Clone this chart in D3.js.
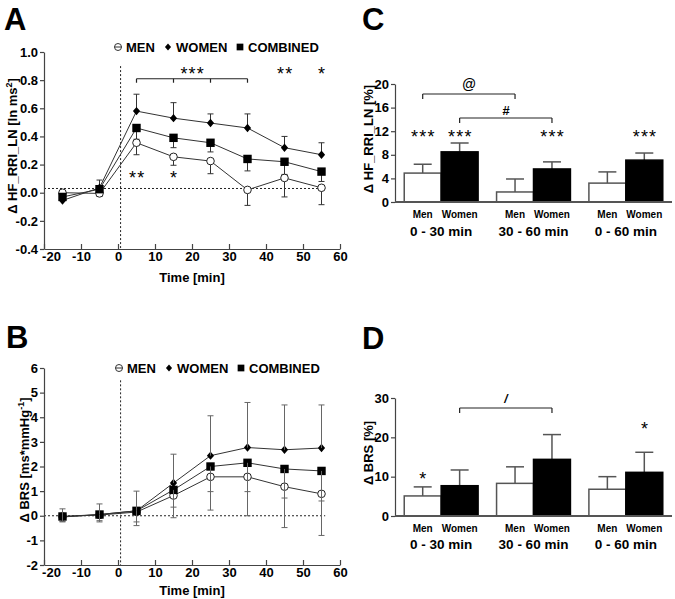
<!DOCTYPE html>
<html><head><meta charset="utf-8">
<script src="https://cdn.jsdelivr.net/npm/d3@7"></script>
<style>
body{margin:0;background:#fff}
text{font-family:"Liberation Sans",Arial,sans-serif;font-weight:bold;fill:#000}
</style>
</head><body>
<svg id="c" width="675" height="599"></svg>
<script>
// ---------- DATA ----------
const times = [-15, -5, 5, 15, 25, 35, 45, 55];
const xTicks = [-20, -10, 0, 10, 20, 30, 40, 50, 60];

// Panel A: Δ HF_RRI_LN [ln ms²]
const hfMen      = [0.00, -0.005, 0.355, 0.255, 0.225, 0.02, 0.105, 0.035];
const hfMenErr   = [0.02, 0.02, 0.085, 0.06, 0.09, 0.11, 0.135, 0.12];
const hfWomen    = [-0.055, 0.035, 0.58, 0.53, 0.495, 0.46, 0.32, 0.27];
const hfWomenErr = [0.02, 0.055, 0.12, 0.11, 0.065, 0.10, 0.08, 0.085];
const hfComb     = [-0.03, 0.025, 0.46, 0.39, 0.355, 0.24, 0.22, 0.15];
const hfCombErr  = [0.02, 0.03, 0.08, 0.07, 0.065, 0.085, 0.09, 0.07];
const hfYTicks   = [-0.4, -0.2, 0.0, 0.2, 0.4, 0.6, 0.8, 1.0];

// Panel B: Δ BRS [ms*mmHg-1]
const brsMen      = [-0.03, 0.03, 0.15, 0.82, 1.58, 1.58, 1.18, 0.89];
const brsMenErr   = [0.22, 0.28, 0.55, 0.90, 1.35, 1.58, 1.66, 1.69];
const brsWomen    = [-0.05, 0.05, 0.20, 1.33, 2.44, 2.77, 2.68, 2.75];
const brsWomenErr = [0.33, 0.43, 0.80, 1.17, 1.62, 1.83, 1.82, 1.75];
const brsComb     = [-0.03, 0.05, 0.20, 1.05, 2.00, 2.15, 1.90, 1.82];
const brsCombErr  = [0.20, 0.25, 0.45, 0.70, 1.02, 1.17, 1.18, 1.22];
const brsYTicks   = [-2, -1, 0, 1, 2, 3, 4, 5, 6];

// Panels C & D
const groups = ["0 - 30 min", "30 - 60 min", "0 - 60 min"];
const sexes = ["Men", "Women"];
const hfPctMen      = [4.9, 1.7, 3.2];
const hfPctMenErr   = [1.5, 2.2, 1.9];
const hfPctWomen    = [8.5, 5.6, 7.1];
const hfPctWomenErr = [1.5, 1.2, 1.2];
const hfPctTicks    = [0, 4, 8, 12, 16, 20];
const brsPctMen      = [5.1, 8.3, 6.8];
const brsPctMenErr   = [2.3, 4.2, 3.2];
const brsPctWomen    = [7.7, 14.4, 11.1];
const brsPctWomenErr = [4.0, 6.3, 5.1];
const brsPctTicks    = [0, 10, 20, 30];

const legendItems = ["MEN", "WOMEN", "COMBINED"];

// ---------- DRAW ----------
const svg = d3.select("#c");
svg.append("rect").attr("width", 675).attr("height", 599).attr("fill", "#fff");
const AX = "#444";

function styleAxis(sel, fs) {
  sel.selectAll("path,line").attr("stroke", AX).attr("stroke-width", 1.2);
  sel.selectAll("text").attr("font-size", fs).attr("fill", "#000")
     .style("font-family", '"Liberation Sans",Arial,sans-serif').style("font-weight", "bold");
}

function marker(g, type, cx, cy, s) {
  if (type === "circle") {
    g.append("circle").attr("cx", cx).attr("cy", cy).attr("r", 3.8 * s)
      .attr("fill", "#fff").attr("stroke", "#222").attr("stroke-width", 1);
  } else if (type === "diamond") {
    const h = 4.2 * s, w = 3.6 * s;
    g.append("path").attr("d", `M${cx},${cy - h}L${cx + w},${cy}L${cx},${cy + h}L${cx - w},${cy}Z`)
      .attr("fill", "#000");
  } else {
    const a = 4.2 * s;
    g.append("rect").attr("x", cx - a).attr("y", cy - a).attr("width", 2 * a).attr("height", 2 * a)
      .attr("fill", "#000");
  }
}

function linePanel(o) {
  const g = svg.append("g");
  const x = d3.scaleLinear().domain([-20, 60]).range([44, 340]);
  const y = d3.scaleLinear().domain(o.yDomain).range(o.yRange);

  // reference dotted lines
  g.append("line").attr("x1", x(-20)).attr("x2", x(56)).attr("y1", y(o.hRef)).attr("y2", y(o.hRef))
    .attr("stroke", "#222").attr("stroke-width", 1).attr("stroke-dasharray", "2,2");
  g.append("line").attr("x1", x(0.7)).attr("x2", x(0.7)).attr("y1", y(o.vTop)).attr("y2", y(o.yDomain[0]))
    .attr("stroke", "#222").attr("stroke-width", 1).attr("stroke-dasharray", "2,2");

  // axes
  const ya = g.append("g").attr("transform", `translate(${x(-20)},0)`)
    .call(d3.axisLeft(y).tickValues(o.yTicks).tickSize(4).tickSizeOuter(0).tickPadding(2).tickFormat(o.fmt));
  styleAxis(ya, 13);
  const xa = g.append("g").attr("transform", `translate(0,${y(o.yDomain[0])})`)
    .call(d3.axisBottom(x).tickValues(xTicks).tickSizeInner(-5).tickSizeOuter(0).tickPadding(3).tickFormat(d => String(d)));
  styleAxis(xa, 13);
  xa.selectAll(".tick").filter(d => d === -20).select("text").attr("dx", 7);

  g.append("text").attr("x", x(20)).attr("y", o.xLabelY).attr("text-anchor", "middle")
    .attr("font-size", 13).text("Time [min]");

  // y label
  const yl = g.append("text").attr("transform", `translate(${o.yLabelX},${o.yLabelY}) rotate(-90)`)
    .attr("text-anchor", "middle").attr("font-size", 13);
  yl.append("tspan").text(o.yLabel[0]);
  yl.append("tspan").attr("font-size", 9).attr("dy", -5).text(o.yLabel[1]);
  yl.append("tspan").attr("dy", 5).text(o.yLabel[2]);

  // series
  const line = d3.line().x((d, i) => x(times[i])).y(d => y(d));
  o.series.forEach(s => {
    g.append("path").datum(s.vals).attr("d", line).attr("fill", "none")
      .attr("stroke", "#333").attr("stroke-width", 1);
  });
  const drawErr = () => o.series.forEach(s => {
    s.vals.forEach((v, i) => {
      const cx = x(times[i]), y1 = y(v), y2 = y(v + s.dir * s.err[i]);
      g.append("line").attr("x1", cx).attr("x2", cx).attr("y1", y1).attr("y2", y2)
        .attr("stroke", o.errColor).attr("stroke-width", 1);
      g.append("line").attr("x1", cx - 3).attr("x2", cx + 3).attr("y1", y2).attr("y2", y2)
        .attr("stroke", o.errColor).attr("stroke-width", 1);
    });
  });
  if (!o.errOnTop) drawErr();
  o.series.forEach(s => s.vals.forEach((v, i) => marker(g, s.marker, x(times[i]), y(v), 1)));
  if (o.errOnTop) drawErr();

  // legend
  const lx = o.legendX, ly = o.legendY;
  const symX = [lx, lx + 50, lx + 122], txtX = [lx + 8, lx + 58, lx + 130];
  g.append("circle").attr("cx", symX[0]).attr("cy", ly).attr("r", 3.5).attr("fill", "#fff").attr("stroke", "#333");
  g.append("line").attr("x1", symX[0] - 3.5).attr("x2", symX[0] + 3.5).attr("y1", ly).attr("y2", ly).attr("stroke", "#333");
  marker(g, "diamond", symX[1], ly, 0.85);
  marker(g, "square", symX[2], ly, 0.8);
  legendItems.forEach((t, i) => g.append("text").attr("x", txtX[i]).attr("y", ly + 4.5)
    .attr("font-size", 13).text(t));

  return {g, x, y};
}

function starText(g, x, yb, txt) {
  g.append("text").attr("x", x + 0.7).attr("y", yb).attr("text-anchor", "middle")
    .attr("font-size", 18).attr("letter-spacing", 1.2)
    .style("font-weight", "normal").text(txt);
}

function bracket(g, xs, yTop, legLen) {
  g.append("line").attr("x1", xs[0]).attr("x2", xs[xs.length - 1]).attr("y1", yTop).attr("y2", yTop)
    .attr("stroke", "#222").attr("stroke-width", 1.2);
  xs.forEach(xx => g.append("line").attr("x1", xx).attr("x2", xx).attr("y1", yTop).attr("y2", yTop + legLen)
    .attr("stroke", "#222").attr("stroke-width", 1.2));
}

// ---- Panel A ----
const A = linePanel({
  yDomain: [-0.4, 1.0], yRange: [249, 52], yTicks: hfYTicks, fmt: d => d.toFixed(1),
  hRef: 0.03, vTop: 0.9, xLabelY: 282, yLabelX: 17, yLabelY: 146,
  yLabel: ["Δ HF_RRI_LN [ln ms", "2", "]"], errColor: "#333", errOnTop: false,
  legendX: 118, legendY: 47,
  series: [
    {vals: hfMen, err: hfMenErr, dir: -1, marker: "circle"},
    {vals: hfComb, err: hfCombErr, dir: -1, marker: "square"},
    {vals: hfWomen, err: hfWomenErr, dir: 1, marker: "diamond"}
  ]
});
{
  const {g, x, y} = A;
  const by = y(0.81);
  bracket(g, [5, 15, 25, 35].map(x), by, 4);
  starText(g, x(20), by + 1, "***");
  starText(g, x(45), by + 1, "**");
  starText(g, x(55), by + 1, "*");
  starText(g, x(5), y(0.065), "**");
  starText(g, x(15), y(0.065), "*");
}

// ---- Panel B ----
linePanel({
  yDomain: [-2, 6], yRange: [565, 368], yTicks: brsYTicks, fmt: d => String(d),
  hRef: 0, vTop: 5.5, xLabelY: 595, yLabelX: 29, yLabelY: 460,
  yLabel: ["Δ BRS [ms*mmHg", "-1", "]"], errColor: "#666", errOnTop: true,
  legendX: 119, legendY: 368,
  series: [
    {vals: brsMen, err: brsMenErr, dir: -1, marker: "circle"},
    {vals: brsComb, err: brsCombErr, dir: -1, marker: "square"},
    {vals: brsWomen, err: brsWomenErr, dir: 1, marker: "diamond"}
  ]
});

// ---- Bar panels ----
function barPanel(o) {
  const g = svg.append("g");
  const x0 = d3.scaleBand().domain(groups).range([395, 672]).paddingInner(0.2).paddingOuter(0.1);
  const x1 = d3.scaleBand().domain(sexes).range([0, x0.bandwidth()]);
  const y = d3.scaleLinear().domain(o.yDomain).range(o.yRange);

  const ya = g.append("g").attr("transform", "translate(395,0)")
    .call(d3.axisLeft(y).tickValues(o.yTicks).tickSize(4).tickSizeOuter(0).tickPadding(2));
  styleAxis(ya, 13);

  const data = [];
  groups.forEach((gr, i) => {
    data.push({gr, sex: "Men", v: o.men[i], e: o.menErr[i]});
    data.push({gr, sex: "Women", v: o.women[i], e: o.womenErr[i]});
  });
  data.forEach(d => {
    const bx = x0(d.gr) + x1(d.sex), bw = x1.bandwidth(), cx = bx + bw / 2;
    const top = y(d.v + d.e);
    g.append("line").attr("x1", cx).attr("x2", cx).attr("y1", y(d.v)).attr("y2", top)
      .attr("stroke", "#555").attr("stroke-width", 1.5);
    g.append("line").attr("x1", cx - 9).attr("x2", cx + 9).attr("y1", top).attr("y2", top)
      .attr("stroke", "#555").attr("stroke-width", 1.5);
    g.append("rect").attr("x", bx).attr("y", y(d.v)).attr("width", bw).attr("height", y(0) - y(d.v))
      .attr("fill", d.sex === "Men" ? "#fff" : "#000")
      .attr("stroke", d.sex === "Men" ? "#555" : "#000").attr("stroke-width", 1.5);
    g.append("text").attr("x", cx).attr("y", o.catY).attr("text-anchor", "middle")
      .attr("font-size", 10).text(d.sex);
  });
  g.append("line").attr("x1", 395).attr("x2", 672).attr("y1", y(0)).attr("y2", y(0))
    .attr("stroke", "#555").attr("stroke-width", 1.8);
  groups.forEach(gr => g.append("text").attr("x", x0(gr) + x0.bandwidth() / 2).attr("y", o.grpY)
    .attr("text-anchor", "middle").attr("font-size", 13.5).text(gr));

  g.append("text").attr("transform", `translate(373,${o.yLabelY}) rotate(-90)`)
    .attr("text-anchor", "middle").attr("font-size", 13).text(o.yLabel);

  const cxOf = (gr, sex) => x0(gr) + x1(sex) + x1.bandwidth() / 2;
  return {g, y, cxOf};
}

// ---- Panel C ----
{
  const {g, y, cxOf} = barPanel({
    yDomain: [0, 20], yRange: [202, 84], yTicks: hfPctTicks,
    men: hfPctMen, menErr: hfPctMenErr, women: hfPctWomen, womenErr: hfPctWomenErr,
    catY: 218, grpY: 236, yLabelY: 139, yLabel: "Δ HF_RRI_LN [%]"
  });
  const sy = 143;
  starText(g, cxOf(groups[0], "Men"), sy, "***");
  starText(g, cxOf(groups[0], "Women"), sy, "***");
  starText(g, cxOf(groups[1], "Women"), sy, "***");
  starText(g, cxOf(groups[2], "Women"), sy, "***");
  bracket(g, [cxOf(groups[0], "Men"), cxOf(groups[1], "Men")], 94, 5);
  g.append("text").attr("x", (cxOf(groups[0], "Men") + cxOf(groups[1], "Men")) / 2).attr("y", 89)
    .attr("text-anchor", "middle").attr("font-size", 14).attr("font-style", "italic").text("@");
  bracket(g, [cxOf(groups[0], "Women"), cxOf(groups[1], "Women")], 118, 5);
  g.append("text").attr("x", (cxOf(groups[0], "Women") + cxOf(groups[1], "Women")) / 2).attr("y", 114.5)
    .attr("text-anchor", "middle").attr("font-size", 13).attr("font-style", "italic").text("#");
}

// ---- Panel D ----
{
  const {g, y, cxOf} = barPanel({
    yDomain: [0, 30], yRange: [516, 398], yTicks: brsPctTicks,
    men: brsPctMen, menErr: brsPctMenErr, women: brsPctWomen, womenErr: brsPctWomenErr,
    catY: 532, grpY: 549, yLabelY: 453, yLabel: "Δ BRS [%]"
  });
  starText(g, cxOf(groups[0], "Men"), 485, "*");
  starText(g, cxOf(groups[2], "Women"), 435, "*");
  bracket(g, [cxOf(groups[0], "Women"), cxOf(groups[1], "Women")], 408, 5);
  g.append("text").attr("x", (cxOf(groups[0], "Women") + cxOf(groups[1], "Women")) / 2).attr("y", 403)
    .attr("text-anchor", "middle").attr("font-size", 12).attr("font-style", "italic").text("/");
}

// ---- Panel letters ----
[["A", 4, 30], ["C", 362, 30], ["B", 6, 348], ["D", 362, 349]].forEach(([t, x, y]) =>
  svg.append("text").attr("x", x).attr("y", y).attr("font-size", 31).text(t));
</script>
</body></html>
